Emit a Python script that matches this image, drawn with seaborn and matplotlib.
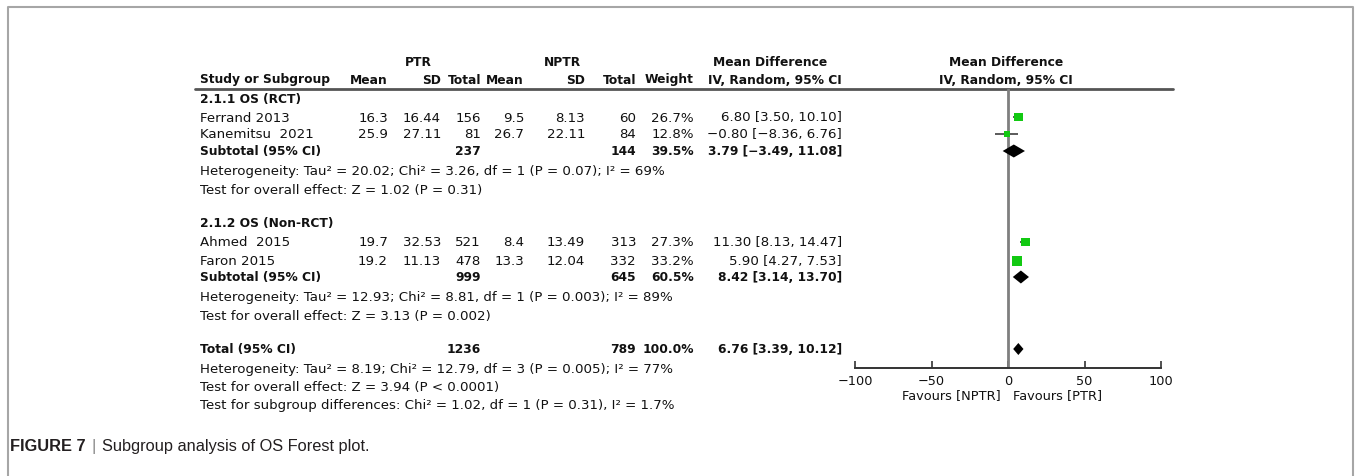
"""
Subgroup analysis of OS - forest plot
"""

import numpy as np
import pandas as pd
import seaborn as sns
import matplotlib.pyplot as plt

# dati degli studi
studies = ["Ferrand 2013", "Kanemitsu  2021", "Ahmed  2015", "Faron 2015"]
ptr_mean = [16.3, 25.9, 19.7, 19.2]
ptr_sd = [16.44, 27.11, 32.53, 11.13]
ptr_total = [156, 81, 521, 478]
nptr_mean = [9.5, 26.7, 8.4, 13.3]
nptr_sd = [8.13, 22.11, 13.49, 12.04]
nptr_total = [60, 84, 313, 332]
weight = [26.7, 12.8, 27.3, 33.2]
md = [6.80, -0.80, 11.30, 5.90]
ci_low = [3.50, -8.36, 8.13, 4.27]
ci_high = [10.10, 6.76, 14.47, 7.53]

# sottogruppi
group_titles = ["2.1.1 OS (RCT)", "2.1.2 OS (Non-RCT)"]
sub_ptr_total = [237, 999]
sub_nptr_total = [144, 645]
sub_weight = [39.5, 60.5]
sub_md = [3.79, 8.42]
sub_low = [-3.49, 3.14]
sub_high = [11.08, 13.70]
sub_het = [
    "Heterogeneity: Tau² = 20.02; Chi² = 3.26, df = 1 (P = 0.07); I² = 69%",
    "Heterogeneity: Tau² = 12.93; Chi² = 8.81, df = 1 (P = 0.003); I² = 89%",
]
sub_test = [
    "Test for overall effect: Z = 1.02 (P = 0.31)",
    "Test for overall effect: Z = 3.13 (P = 0.002)",
]

# totale
total_ptr = 1236
total_nptr = 789
total_weight = 100.0
total_md = 6.76
total_low = 3.39
total_high = 10.12
total_notes = [
    "Heterogeneity: Tau² = 8.19; Chi² = 12.79, df = 3 (P = 0.005); I² = 77%",
    "Test for overall effect: Z = 3.94 (P < 0.0001)",
    "Test for subgroup differences: Chi² = 1.02, df = 1 (P = 0.31), I² = 1.7%",
]

xticks = [-100, -50, 0, 50, 100]
favours = ["Favours [NPTR]", "Favours [PTR]"]

# layout (pixel)
W, H = 1356, 477
study_y = [118, 135, 243, 262]
title_y = [99, 224]
sub_y = [152, 278]
het_y = [172, 298]
test_y = [191, 317]
total_y = 350
notes_y = [370, 388, 406]
col_right = [388, 441, 481, 524, 585, 636, 694, 842]

sns.set_style("white")
plt.rcParams["font.family"] = ["DejaVu Sans"]
FS = 9.6   # testo normale
FB = 8.8   # testo in grassetto
TXT = "#111111"


def fmt(v, nd=2):
    return f"{v:.{nd}f}".replace("-", "\u2212")


def ci_text(m, lo, hi):
    return f"{fmt(m)} [{fmt(lo)}, {fmt(hi)}]"


def txt(x, y, s, ha="left", bold=False):
    tab.text(x, y, s, ha=ha, va="center", fontsize=FB if bold else FS,
             fontweight="bold" if bold else "normal", color=TXT)


fig = plt.figure(figsize=(W / 100, H / 100), dpi=100)
tab = fig.add_axes([0, 0, 1, 1])
tab.set_xlim(0, W)
tab.set_ylim(H, 0)
tab.axis("off")

# cornice
tab.plot([8, 8, 1353, 1353], [H, 8, 8, H], color="#a6a6a6", lw=1.5)

# intestazioni
txt(418, 62, "PTR", "center", True)
txt(562, 62, "NPTR", "center", True)
txt(770, 62, "Mean Difference", "center", True)
txt(1006, 62, "Mean Difference", "center", True)
txt(200, 80, "Study or Subgroup", "left", True)
for x, lab in zip(col_right, ["Mean", "SD", "Total", "Mean", "SD", "Total", "Weight", "IV, Random, 95% CI"]):
    txt(x, 80, lab, "right", True)
txt(1006, 80, "IV, Random, 95% CI", "center", True)
tab.plot([195, 1173], [90, 90], color="#555555", lw=2)

# righe degli studi
for i, name in enumerate(studies):
    y = study_y[i]
    vals = [fmt(ptr_mean[i], 1), fmt(ptr_sd[i]), str(ptr_total[i]),
            fmt(nptr_mean[i], 1), fmt(nptr_sd[i]), str(nptr_total[i]),
            f"{weight[i]:.1f}%", ci_text(md[i], ci_low[i], ci_high[i])]
    txt(200, y, name)
    for x, v in zip(col_right, vals):
        txt(x, y, v, "right")

# sottogruppi
for g in range(2):
    txt(200, title_y[g], group_titles[g], "left", True)
    y = sub_y[g]
    txt(200, y, "Subtotal (95% CI)", "left", True)
    for x, v in [(col_right[2], str(sub_ptr_total[g])), (col_right[5], str(sub_nptr_total[g])),
                 (col_right[6], f"{sub_weight[g]:.1f}%"),
                 (col_right[7], ci_text(sub_md[g], sub_low[g], sub_high[g]))]:
        txt(x, y, v, "right", True)
    txt(200, het_y[g], sub_het[g])
    txt(200, test_y[g], sub_test[g])

# totale
txt(200, total_y, "Total (95% CI)", "left", True)
for x, v in [(col_right[2], str(total_ptr)), (col_right[5], str(total_nptr)),
             (col_right[6], f"{total_weight:.1f}%"),
             (col_right[7], ci_text(total_md, total_low, total_high))]:
    txt(x, total_y, v, "right", True)
for y, note in zip(notes_y, total_notes):
    txt(200, y, note)

# pannello forest
x0, x1, y_top, y_axis = 855, 1161, 90, 369
ax = fig.add_axes([x0 / W, (H - y_axis) / H, (x1 - x0) / W, (y_axis - y_top) / H])
ax.set_xlim(xticks[0], xticks[-1])
ax.set_ylim(y_axis, y_top)
ax.patch.set_alpha(0)
ax.axvline(0, color="#7f7f7f", lw=2, zorder=1)

df = pd.DataFrame({"md": md, "lo": ci_low, "hi": ci_high, "w": weight, "y": study_y})
ax.hlines(df["y"], df["lo"], df["hi"], color="#4d4d4d", lw=1.3, zorder=2)
areas = {w: (1.7 * np.sqrt(w) * 0.72) ** 2 for w in weight}
sns.scatterplot(data=df, x="md", y="y", size="w", sizes=areas, marker="s",
                color="#12c912", linewidth=0, legend=False, zorder=3, ax=ax)


def diamond(m, lo, hi, y, half=6.5):
    ax.fill([lo, m, hi, m], [y, y - half, y, y + half], color="black", lw=0, zorder=4)


for g in range(2):
    diamond(sub_md[g], sub_low[g], sub_high[g], sub_y[g])
diamond(total_md, total_low, total_high, total_y, half=6)

for s in ["left", "right", "top"]:
    ax.spines[s].set_visible(False)
ax.spines["bottom"].set_color("#333333")
ax.spines["bottom"].set_linewidth(1.4)
ax.set_yticks([])
ax.set_xticks(xticks)
ax.tick_params(axis="x", direction="in", length=5, width=1.2, color="#333333",
               labelsize=9.3, labelcolor=TXT, pad=4, bottom=True)
ax.set_xlabel("")
ax.set_ylabel("")

tab.text(1001, 396, favours[0], ha="right", va="center", fontsize=9.3, color=TXT)
tab.text(1013, 396, favours[1], ha="left", va="center", fontsize=9.3, color=TXT)

# didascalia
renderer = fig.canvas.get_renderer()
cap = tab.text(10, 447, "FIGURE 7", ha="left", va="center", fontsize=11.8,
               fontweight="bold", family="Liberation Sans", color="#231f20")
bb = cap.get_window_extent(renderer)
bar = tab.text(bb.x1 + 6, 447, "|", ha="left", va="center", fontsize=11.8,
               family="Liberation Sans", color="#8a8a8a")
bb2 = bar.get_window_extent(renderer)
tab.text(bb2.x1 + 6, 447, "Subgroup analysis of OS Forest plot.", ha="left", va="center",
         fontsize=11.8, family="Liberation Sans", color="#231f20")

fig.savefig("out.png", dpi=100)
